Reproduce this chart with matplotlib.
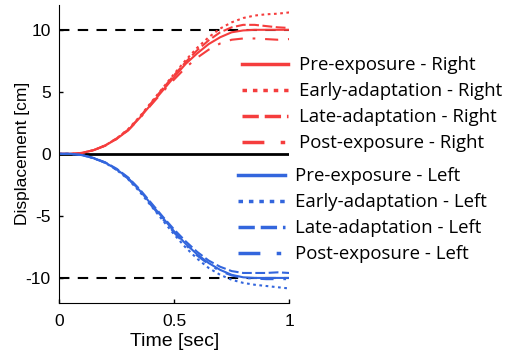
import numpy as np
import matplotlib.pyplot as plt
from matplotlib.lines import Line2D

# time samples [sec]
t = np.arange(0, 1.0001, 0.05)

# displacement [cm], right-hand movements
pre_r   = [0, 0, 0.08, 0.3, 0.67, 1.2, 1.9, 2.9, 4.0, 5.1, 6.2, 7.25, 8.1, 8.85, 9.4, 9.8, 9.95, 10.0, 10.0, 10.0, 10.0]
early_r = [0, 0, 0.08, 0.3, 0.68, 1.25, 2.0, 3.0, 4.15, 5.3, 6.45, 7.55, 8.55, 9.4, 10.1, 10.6, 10.95, 11.15, 11.25, 11.3, 11.4]
late_r  = [0, 0, 0.08, 0.3, 0.68, 1.25, 1.95, 2.95, 4.1, 5.25, 6.35, 7.4, 8.35, 9.15, 9.8, 10.2, 10.4, 10.4, 10.3, 10.2, 10.15]
post_r  = [0, 0, 0.08, 0.3, 0.65, 1.2, 1.9, 2.85, 3.95, 5.0, 6.0, 6.95, 7.75, 8.4, 8.9, 9.2, 9.3, 9.3, 9.25, 9.2, 9.25]

# displacement [cm], left-hand movements
pre_l   = [0, 0, -0.1, -0.35, -0.7, -1.25, -1.95, -2.95, -4.05, -5.15, -6.25, -7.25, -8.1, -8.8, -9.35, -9.75, -9.95, -10.0, -10.0, -10.0, -10.0]
early_l = [0, 0, -0.1, -0.35, -0.72, -1.3, -2.05, -3.05, -4.2, -5.35, -6.5, -7.55, -8.45, -9.2, -9.75, -10.15, -10.4, -10.55, -10.65, -10.75, -10.85]
late_l  = [0, 0, -0.1, -0.33, -0.68, -1.2, -1.9, -2.85, -3.95, -5.05, -6.1, -7.05, -7.9, -8.6, -9.1, -9.45, -9.6, -9.6, -9.6, -9.55, -9.6]
post_l  = [0, 0, -0.1, -0.35, -0.72, -1.3, -2.0, -3.0, -4.15, -5.25, -6.35, -7.35, -8.2, -8.9, -9.45, -9.8, -10.0, -10.05, -10.1, -10.1, -10.1]

phases = ["Pre-exposure", "Early-adaptation", "Late-adaptation", "Post-exposure"]
red = "#f53d3d"
blue = "#3366dd"
styles = ["-", (0, (1.3, 1.7)), (0, (4.7, 1.7)), (0, (6.3, 4.7, 1.3, 4.7))]

plt.rcParams['font.family'] = ['Liberation Sans', 'DejaVu Sans']
plt.rcParams['axes.unicode_minus'] = False

fig = plt.figure(figsize=(5.1, 3.57), dpi=100)
ax = fig.add_axes([0.116, 0.152, 0.451, 0.834])

ax.plot([0, 1], [10, 10], color="black", ls=(0, (5, 4)), lw=1.5)
ax.plot([0, 1], [-10, -10], color="black", ls=(0, (5, 4)), lw=1.5)
ax.plot([0, 1], [0, 0], color="black", lw=2)

for y, ls in zip([pre_r, early_r, late_r, post_r], styles):
    ax.plot(t, y, color=red, ls=ls, lw=1.5)
for y, ls in zip([pre_l, early_l, late_l, post_l], styles):
    ax.plot(t, y, color=blue, ls=ls, lw=1.5)

ax.set_xlim(0, 1)
ax.set_ylim(-12, 12)
ax.set_xticks([0, 0.5, 1])
ax.set_xticklabels(["0", "0.5", "1"])
ax.set_yticks([-10, -5, 0, 5, 10])
ax.tick_params(direction="in", labelsize=12.5, length=3, width=1)
ax.tick_params(axis="x", pad=8)
ax.tick_params(axis="y", pad=6)
ax.spines["top"].set_visible(False)
ax.spines["right"].set_visible(False)
ax.set_xlabel("Time [sec]", fontsize=14, labelpad=3)
ax.set_ylabel("Displacement [cm]", fontsize=12.5, labelpad=-3)

# legends, drawn to the right of the axes
lfont = {"family": ["Open Sans", "DejaVu Sans"], "size": 13.4}
h_r = [Line2D([], [], color=red, ls=ls, lw=2.5) for ls in styles]
h_l = [Line2D([], [], color=blue, ls=ls, lw=2.5) for ls in styles]
leg_kw = dict(loc="upper left", bbox_transform=fig.transFigure, frameon=False,
              prop=lfont, handlelength=2.5, handletextpad=0.55,
              labelspacing=0.43, borderaxespad=0, borderpad=0)
leg1 = ax.legend(h_r, [p + " - Right" for p in phases],
                 bbox_to_anchor=(0.474, 0.843), **leg_kw)
ax.add_artist(leg1)
ax.legend(h_l, [p + " - Left" for p in phases],
          bbox_to_anchor=(0.467, 0.532), **leg_kw)

fig.savefig("out.png", dpi=100)
